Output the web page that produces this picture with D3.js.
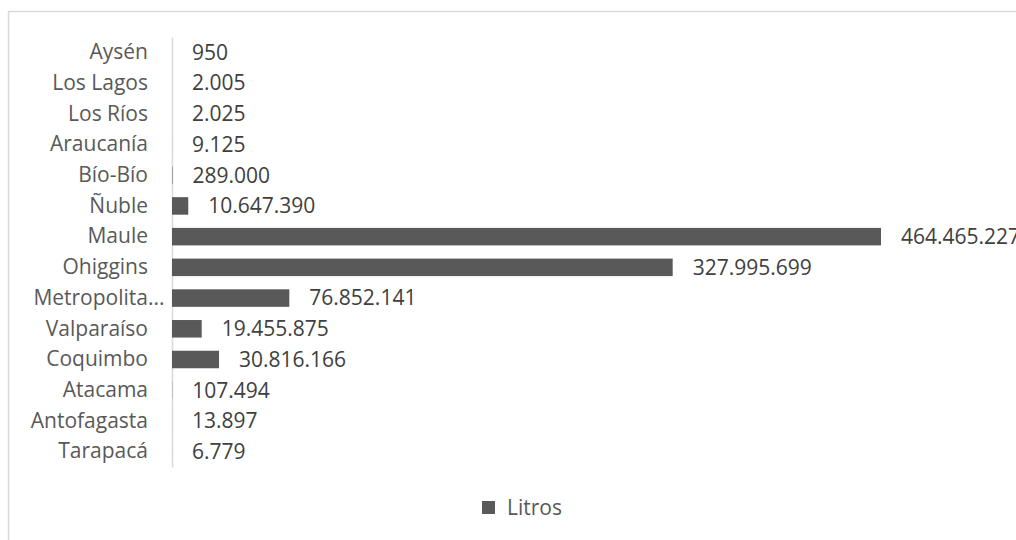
<!DOCTYPE html>
<html>
<head>
<meta charset="utf-8">
<script src="https://cdn.jsdelivr.net/npm/d3@7"></script>
<style>
  body { margin: 0; background: #fff; overflow: hidden; }
  text { font-family: "Open Sans", sans-serif; }
</style>
</head>
<body>
<div id="chart"></div>
<script>
// regions, top to bottom as shown
const regiones = ["Aysén", "Los Lagos", "Los Ríos", "Araucanía", "Bío-Bío", "Ñuble", "Maule",
  "Ohiggins", "Metropolitana", "Valparaíso", "Coquimbo", "Atacama", "Antofagasta", "Tarapacá"];
const litros = [950, 2005, 2025, 9125, 289000, 10647390, 464465227,
  327995699, 76852141, 19455875, 30816166, 107494, 13897, 6779];
const serieNombre = "Litros";

const width = 1016, height = 540;
const margin = { top: 37, left: 172, bottom: 73 };
const plotRight = 881;
const fontSize = "21px";

const svg = d3.select("#chart").append("svg")
  .attr("width", width)
  .attr("height", height);

// chart frame (only top/left are visible in the window)
svg.append("rect")
  .attr("x", 8.5).attr("y", 11.5)
  .attr("width", 1200).attr("height", 700)
  .attr("fill", "none")
  .attr("stroke", "#d9d9d9")
  .attr("stroke-width", 1.5);

const x = d3.scaleLinear()
  .domain([0, d3.max(litros)])
  .range([margin.left, plotRight]);

const y = d3.scaleBand()
  .domain(regiones)
  .range([margin.top, height - margin.bottom])
  .paddingInner(0.43)
  .paddingOuter(0.215);

const es = d3.formatLocale({ decimal: ",", thousands: ".", grouping: [3], currency: ["$", ""] });
const fmt = es.format(",d");

const data = regiones.map((r, i) => ({ region: r, value: litros[i] }));

// category axis
const yAxis = d3.axisLeft(y).tickSize(0).tickPadding(24);
const gy = svg.append("g")
  .attr("transform", `translate(${margin.left},0)`)
  .call(yAxis);
gy.select(".domain").attr("stroke", "#d9d9d9").attr("stroke-width", 1.5);
gy.selectAll("text")
  .attr("fill", "#595959")
  .style("font-size", fontSize)
  .each(function () {
    // truncate long labels like Excel does, ellipsis hangs past the edge
    const t = d3.select(this);
    const full = t.text();
    if (this.getComputedTextLength() > 125) {
      let s = full;
      while (s.length > 1 && this.getComputedTextLength() > 117) {
        s = s.slice(0, -1);
        t.text(s);
      }
      t.append("tspan").text("...");
      const w = this.getComputedTextLength();
      t.text(s);
      const w0 = this.getComputedTextLength();
      t.append("tspan").text("...");
      t.attr("dx", w - w0);
    }
  });

// bars
svg.append("g").selectAll("rect")
  .data(data)
  .join("rect")
  .attr("x", x(0))
  .attr("y", d => y(d.region))
  .attr("width", d => x(d.value) - x(0))
  .attr("height", y.bandwidth())
  .attr("fill", "#595959");

// value labels
svg.append("g").selectAll("text")
  .data(data)
  .join("text")
  .attr("x", d => x(d.value) + 20)
  .attr("y", d => y(d.region) + y.bandwidth() / 2)
  .attr("dy", "0.35em")
  .attr("fill", "#404040")
  .style("font-size", fontSize)
  .text(d => fmt(d.value));

// legend
const lg = svg.append("g").attr("transform", "translate(482,501)");
lg.append("rect").attr("width", 13).attr("height", 13).attr("fill", "#595959");
lg.append("text")
  .attr("x", 25).attr("y", 6.5).attr("dy", "0.35em")
  .attr("fill", "#595959")
  .style("font-size", fontSize)
  .text(serieNombre);
</script>
</body>
</html>
